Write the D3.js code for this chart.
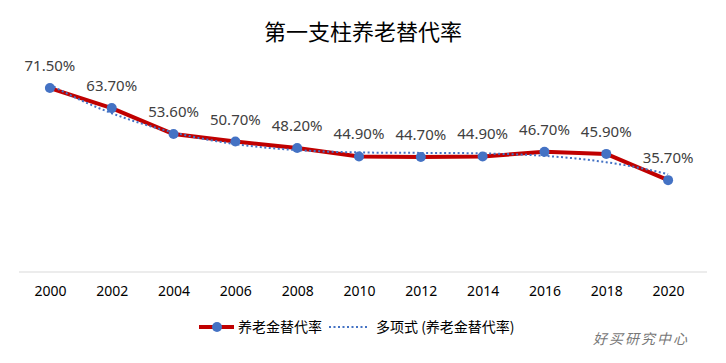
<!DOCTYPE html>
<html>
<head>
<meta charset="utf-8">
<script src="https://cdn.jsdelivr.net/npm/d3@7/dist/d3.min.js"></script>
<style>
  body { margin: 0; background: #fff; }
  text { font-family: "Noto Sans CJK SC", "Noto Sans", sans-serif; }
</style>
</head>
<body>
<div id="chart-container"></div>
<script>
// data
var years = ["2000","2002","2004","2006","2008","2010","2012","2014","2016","2018","2020"];
var rates = [71.5, 63.7, 53.6, 50.7, 48.2, 44.9, 44.7, 44.9, 46.7, 45.9, 35.7];
var seriesName = "养老金替代率";
var trendName = "多项式 (养老金替代率)";
var titleText = "第一支柱养老替代率";

var width = 726, height = 363;
var margin = {top: 60, right: 27, bottom: 91, left: 19};

var svg = d3.select("#chart-container")
  .append("svg")
    .attr("width", width)
    .attr("height", height);

// title
svg.append("text")
    .attr("x", width / 2)
    .attr("y", 40)
    .attr("text-anchor", "middle")
    .attr("font-size", 22)
    .attr("fill", "#000")
    .text(titleText);

var x = d3.scalePoint()
    .domain(years)
    .range([margin.left, width - margin.right])
    .padding(0.5);

var y = d3.scaleLinear()
    .domain([0, 80])
    .range([height - margin.bottom, height - margin.bottom - 80 * 2.573]);

// baseline axis
var xAxis = svg.append("g")
    .attr("transform", "translate(0," + (height - margin.bottom) + ")")
    .call(d3.axisBottom(x).tickSize(0).tickPadding(14));
xAxis.select(".domain")
    .attr("d", "M" + margin.left + ",0H" + (width - margin.right + 8))
    .attr("stroke", "#d9d9d9");
xAxis.selectAll("text")
    .attr("font-size", 14)
    .attr("fill", "#000")
    .style("font-family", "'Noto Sans', sans-serif");

// polynomial trendline (least squares fit, order 3)
function polyFit(xs, ys, order) {
  var n = order + 1;
  var A = [];
  for (var i = 0; i < n; i++) {
    A.push([]);
    for (var j = 0; j <= n; j++) A[i].push(0);
  }
  for (var k = 0; k < xs.length; k++) {
    for (var i = 0; i < n; i++) {
      for (var j = 0; j < n; j++) A[i][j] += Math.pow(xs[k], i + j);
      A[i][n] += ys[k] * Math.pow(xs[k], i);
    }
  }
  for (var c = 0; c < n; c++) {
    var p = c;
    for (var r = c + 1; r < n; r++) if (Math.abs(A[r][c]) > Math.abs(A[p][c])) p = r;
    var t = A[c]; A[c] = A[p]; A[p] = t;
    for (var r = 0; r < n; r++) {
      if (r === c) continue;
      var f = A[r][c] / A[c][c];
      for (var j = c; j <= n; j++) A[r][j] -= f * A[c][j];
    }
  }
  return A.map(function(row, i) { return row[n] / row[i]; });
}
var xsIdx = rates.map(function(d, i) { return i + 1; });
var coef = polyFit(xsIdx, rates, 3);
function polyVal(t) {
  return coef.reduce(function(s, c, i) { return s + c * Math.pow(t, i); }, 0);
}
var step = x.step();
var trendPts = d3.range(1, 11.001, 0.1).map(function(t) {
  return [x(years[0]) + (t - 1) * step, y(polyVal(t))];
});

// main line
svg.append("path")
    .datum(rates)
    .attr("fill", "none")
    .attr("stroke", "#C00000")
    .attr("stroke-width", 4)
    .attr("stroke-linejoin", "round")
    .attr("d", d3.line()
        .x(function(d, i) { return x(years[i]); })
        .y(function(d) { return y(d); }));

svg.append("path")
    .datum(trendPts)
    .attr("fill", "none")
    .attr("stroke", "#4472C4")
    .attr("stroke-width", 2)
    .attr("stroke-dasharray", "2,2.5")
    .attr("d", d3.line());

svg.selectAll(".dot")
  .data(rates)
  .join("circle")
    .attr("class", "dot")
    .attr("cx", function(d, i) { return x(years[i]); })
    .attr("cy", function(d) { return y(d); })
    .attr("r", 5)
    .attr("fill", "#4472C4");

// data labels
svg.selectAll(".lbl")
  .data(rates)
  .join("text")
    .attr("class", "lbl")
    .attr("x", function(d, i) { return x(years[i]); })
    .attr("y", function(d) { return y(d) - 17; })
    .attr("text-anchor", "middle")
    .attr("font-size", 15)
    .attr("fill", "#404040")
    .style("font-family", "'Noto Sans', sans-serif")
    .text(function(d) { return d.toFixed(2) + "%"; });

// legend
var ly = 327;
var lg = svg.append("g");
lg.append("line")
    .attr("x1", 199).attr("x2", 234).attr("y1", ly).attr("y2", ly)
    .attr("stroke", "#C00000").attr("stroke-width", 4);
lg.append("circle")
    .attr("cx", 217).attr("cy", ly).attr("r", 5).attr("fill", "#4472C4");
lg.append("text")
    .attr("x", 238).attr("y", ly + 5)
    .attr("font-size", 14).attr("fill", "#000")
    .text(seriesName);
lg.append("line")
    .attr("x1", 329).attr("x2", 369).attr("y1", ly).attr("y2", ly)
    .attr("stroke", "#4472C4").attr("stroke-width", 2)
    .attr("stroke-dasharray", "2,2.5");
lg.append("text")
    .attr("x", 376).attr("y", ly + 5)
    .attr("font-size", 14).attr("fill", "#000")
    .text(trendName);

// watermark
svg.append("text")
    .attr("x", 593).attr("y", 344)
    .attr("font-size", 14)
    .attr("font-style", "italic")
    .attr("letter-spacing", 2)
    .attr("fill", "#777")
    .text("好买研究中心");
</script>
</body>
</html>
